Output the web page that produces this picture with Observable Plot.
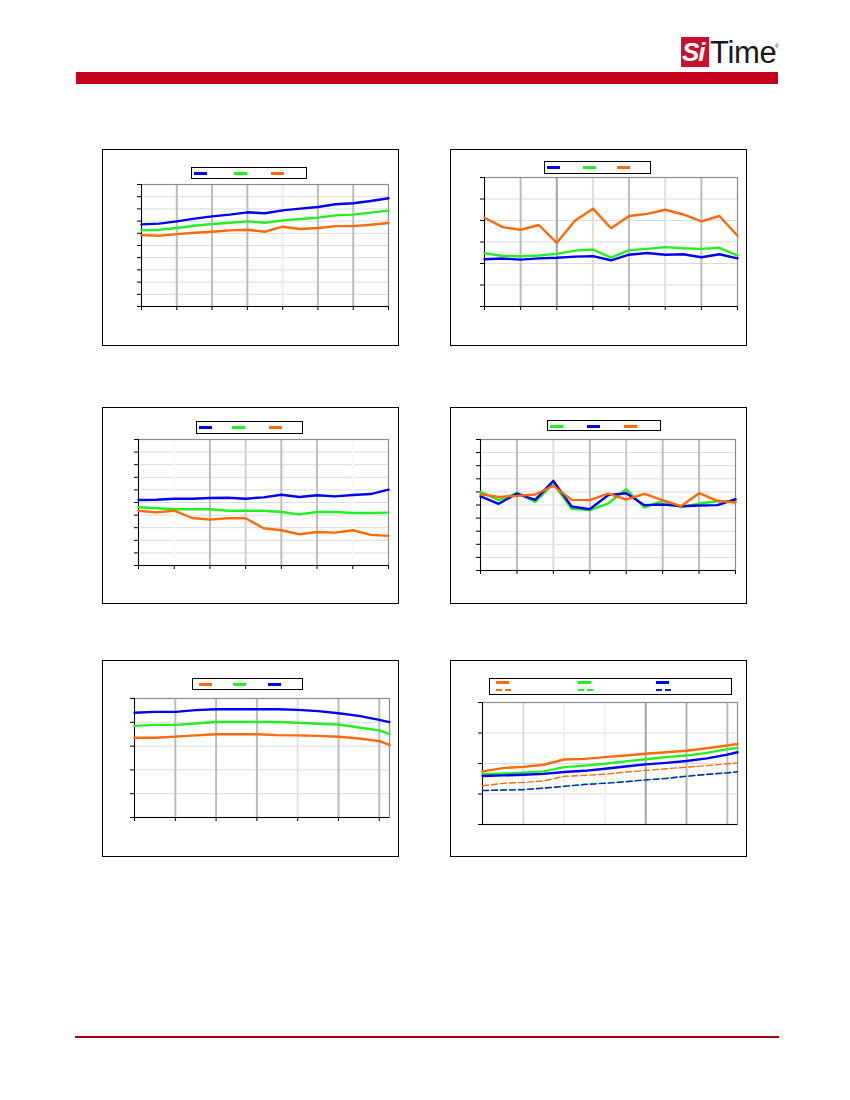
<!DOCTYPE html>
<html><head><meta charset="utf-8">
<script src="https://cdn.jsdelivr.net/npm/d3@7"></script>
<script src="https://cdn.jsdelivr.net/npm/@observablehq/plot@0.6"></script>
<style>
body{margin:0;background:#fff;font-family:"Liberation Sans",Arial,sans-serif}
#page{position:relative;width:850px;height:1100px;overflow:hidden;background:#fff}
.abs{position:absolute}
.box{position:absolute;border:1px solid #000;box-sizing:border-box;background:#fff}
svg{overflow:visible}
</style></head><body><div id="page"></div>
<script>
// ---------- data ----------
const xHalfSteps = [0,1,2,3,4,5,6,7,8,9,10,11,12,13,14];
const xTicks7 = [0,2,4,6,8,10,12,14];
const xVolt = [0,0.5,1,1.5,2,2.5,3,3.5,4,4.5,5,5.5,6,6.25];
const xTicksVolt = [0,1,2,3,4,5,6];

const c1Blue   = [6.73,6.79,6.98,7.20,7.39,7.53,7.72,7.64,7.88,8.02,8.16,8.38,8.46,8.65,8.87];
const c1Green  = [6.24,6.29,6.43,6.62,6.76,6.87,6.98,6.87,7.06,7.17,7.28,7.47,7.53,7.69,7.86];
const c1Orange = [5.85,5.80,5.93,6.04,6.13,6.24,6.29,6.13,6.54,6.35,6.43,6.59,6.59,6.70,6.84];
const c1YTicks = [0,1,2,3,4,5,6,7,8,9,10];

const c2Blue   = [2.20,2.23,2.18,2.24,2.27,2.32,2.34,2.15,2.41,2.49,2.41,2.43,2.29,2.43,2.24];
const c2Green  = [2.48,2.35,2.34,2.37,2.45,2.60,2.65,2.27,2.62,2.68,2.76,2.71,2.68,2.73,2.37];
const c2Orange = [4.13,3.69,3.57,3.79,2.96,3.99,4.55,3.64,4.21,4.31,4.50,4.28,3.96,4.21,3.29];
const c2YTicks = [0,1,2,3,4,5,6];

const c3Blue   = [5.20,5.22,5.30,5.30,5.36,5.38,5.30,5.41,5.62,5.44,5.57,5.49,5.59,5.67,6.02];
const c3Green  = [4.62,4.54,4.46,4.46,4.46,4.35,4.35,4.35,4.25,4.06,4.25,4.25,4.17,4.17,4.20];
const c3Orange = [4.35,4.22,4.35,3.77,3.64,3.75,3.75,2.96,2.80,2.48,2.66,2.61,2.80,2.43,2.35];
const c3YTicks = [0,1,2,3,4,5,6,7,8,9,10];

const c4Green  = [6.00,5.37,5.92,5.24,6.63,4.71,4.61,5.11,6.20,4.81,5.32,4.84,5.11,5.29,5.29];
const c4Blue   = [5.65,5.09,5.87,5.39,6.84,4.89,4.68,5.75,5.90,4.99,5.04,4.91,4.96,4.99,5.44];
const c4Orange = [5.82,5.62,5.70,5.80,6.46,5.39,5.37,5.87,5.42,5.85,5.37,4.91,5.90,5.32,5.19];
const c4YTicks = [0,1,2,3,4,5,6,7,8,9,10];

const c5Orange = [3.35,3.35,3.40,3.45,3.50,3.50,3.50,3.46,3.45,3.43,3.39,3.32,3.21,3.05];
const c5Green  = [3.85,3.89,3.89,3.95,4.01,4.01,4.01,4.01,3.98,3.94,3.91,3.78,3.66,3.50];
const c5Blue   = [4.40,4.44,4.44,4.51,4.55,4.55,4.55,4.55,4.52,4.47,4.38,4.27,4.10,4.01];
const c5YTicks = [0,1,2,3,4,5];

const c6OrangeSolid  = [1.74,1.85,1.89,1.96,2.13,2.15,2.21,2.26,2.32,2.37,2.42,2.50,2.59,2.64];
const c6GreenSolid   = [1.65,1.67,1.70,1.74,1.88,1.93,1.99,2.07,2.14,2.21,2.26,2.35,2.47,2.51];
const c6BlueSolid    = [1.59,1.61,1.63,1.66,1.72,1.76,1.83,1.90,1.97,2.02,2.08,2.17,2.29,2.37];
const c6OrangeDashed = [1.27,1.35,1.38,1.43,1.58,1.61,1.65,1.72,1.77,1.83,1.88,1.93,1.99,2.02];
const c6GreenDashed  = [1.12,1.14,1.15,1.20,1.26,1.32,1.36,1.41,1.47,1.52,1.59,1.65,1.70,1.74];
const c6BlueDashed   = [1.11,1.13,1.14,1.19,1.25,1.31,1.35,1.40,1.46,1.51,1.58,1.64,1.69,1.73];
const c6YTicks = [0,1,2,3,4];

// ---------- styles ----------
const BLUE = "#0000f5", GREEN = "#22f022", ORANGE = "#ff6a0a";
const G = "#bdbdbd", GD = "#a3a3a3", GL = "#dedede", GF = "#f1f1f1";

const panels = [
  { box:[102,149,297,197], plot:[141,184,388,306], legend:[191,167,116,12],
    x:xHalfSteps, xdomain:[0,14], xticks:xTicks7, ydomain:[0,10], yticks:c1YTicks, xTickMarks:true,
    vgrid:[2,4,6,8,10,12], vgridColor:[G,G,G,"#ececec",G,G],
    series:[{v:c1Blue,c:BLUE,lx:2,ly:4},{v:c1Green,c:GREEN,lx:42,ly:4},{v:c1Orange,c:ORANGE,lx:79,ly:4}] },
  { box:[450,149,297,197], plot:[484,177,737,306], legend:[544,161,107,13],
    x:xHalfSteps, xdomain:[0,14], xticks:xTicks7, ydomain:[0,6], yticks:c2YTicks, xTickMarks:true,
    vgrid:[2,4,6,8,10,12], vgridColor:[G,GD,GL,G,GL,G],
    series:[{v:c2Blue,c:BLUE,lx:2,ly:4},{v:c2Green,c:GREEN,lx:38,ly:4},{v:c2Orange,c:ORANGE,lx:72,ly:4}] },
  { box:[102,407,297,197], plot:[138,439,388,565], legend:[196,421,107,13],
    x:xHalfSteps, xdomain:[0,14], xticks:xTicks7, ydomain:[0,10], yticks:c3YTicks, xTickMarks:true,
    vgrid:[2,4,6,8,10,12], vgridColor:["#fafafa",G,"#d0d0d0",G,G,"#fafafa"],
    series:[{v:c3Blue,c:BLUE,lx:2,ly:4},{v:c3Green,c:GREEN,lx:35,ly:4},{v:c3Orange,c:ORANGE,lx:72,ly:4}] },
  { box:[450,407,297,197], plot:[480,439,735,570], legend:[547,420,114,11],
    x:xHalfSteps, xdomain:[0,14], xticks:xTicks7, ydomain:[0,10], yticks:c4YTicks, xTickMarks:true,
    vgrid:[2,4,6,8,10,12], vgridColor:[G,GL,G,"#cccccc",G,G],
    series:[{v:c4Green,c:GREEN,lx:2,ly:3.5},{v:c4Blue,c:BLUE,lx:39,ly:3.5},{v:c4Orange,c:ORANGE,lx:76,ly:3.5}] },
  { box:[102,660,297,197], plot:[134,698,389,817], legend:[192,678,111,12],
    x:xVolt, xdomain:[0,6.25], xticks:xTicksVolt, ydomain:[0,5], yticks:c5YTicks, xTickMarks:true,
    vgrid:[1,2,3,4,5,6], vgridColor:[G,G,G,"#e2e2e2",G,G],
    series:[{v:c5Orange,c:ORANGE,lx:6,ly:4},{v:c5Green,c:GREEN,lx:40,ly:4},{v:c5Blue,c:BLUE,lx:75,ly:4}] },
  { box:[450,660,297,197], plot:[482,702,737,824], legend:[489,678,243,17],
    x:xVolt, xdomain:[0,6.25], xticks:xTicksVolt, ydomain:[0,4], yticks:c6YTicks, xTickMarks:false,
    vgrid:[1,2,3,4,5,6], vgridColor:["#dcdcdc",GF,GF,GD,"#b5b5b5",G],
    series:[{v:c6OrangeSolid,c:ORANGE,lx:6,ly:2},{v:c6GreenSolid,c:GREEN,lx:88,ly:2},{v:c6BlueSolid,c:BLUE,lx:166,ly:2},
            {v:c6OrangeDashed,c:ORANGE,lx:6,ly:10,dash:true},{v:c6GreenDashed,c:GREEN,lx:88,ly:10,dash:true},{v:c6BlueDashed,c:"#1020d0",lx:166,ly:10,dash:true}] }
];

// ---------- page chrome ----------
const page = document.getElementById("page");
function el(cls, style, parent=page){ const d=document.createElement("div"); if(cls) d.className=cls; Object.assign(d.style, style); parent.appendChild(d); return d; }
el("abs",{left:"76px",top:"72px",width:"702px",height:"12px",background:"#c4001a"});
el("abs",{left:"75px",top:"1036px",width:"704px",height:"1.5px",background:"#a8001c"});
const logoBox = el("abs",{left:"681px",top:"37px",width:"28px",height:"30px",background:"#c8102e"});
const si = el("abs",{left:"1px",top:"1px",width:"27px",height:"29px",color:"#fff",fontStyle:"italic",fontWeight:"bold",fontSize:"26px",lineHeight:"29px",fontFamily:"'Liberation Sans Narrow','Liberation Sans',Arial,sans-serif",letterSpacing:"-1px"}, logoBox);
si.textContent = "Si";
const tm = el("abs",{left:"710px",top:"39px",color:"#1a1718",fontSize:"31px",lineHeight:"28px",fontFamily:"'Liberation Sans Narrow','Liberation Sans',Arial,sans-serif",letterSpacing:"-0.3px"});
tm.textContent = "Time";
const reg = el("abs",{left:"775px",top:"44px",color:"#231f20",fontSize:"5px",lineHeight:"5px"});
reg.textContent = "®";

// ---------- panels ----------
const mL = 8, mR = 2, mT = 2, mB = 8;
for (const p of panels) {
  el("box",{left:p.box[0]+"px",top:p.box[1]+"px",width:p.box[2]+"px",height:p.box[3]+"px"});
  const lg = el("box",{left:p.legend[0]+"px",top:p.legend[1]+"px",width:p.legend[2]+"px",height:p.legend[3]+"px"});
  for (const s of p.series) {
    if (s.dash) {
      el("abs",{left:s.lx+"px",top:s.ly+"px",width:"15px",height:"1.5px",
        background:`repeating-linear-gradient(90deg, ${s.c} 0 6px, transparent 6px 9px)`}, lg);
    } else {
      el("abs",{left:s.lx+"px",top:s.ly+"px",width:"13px",height:"3px",background:s.c}, lg);
    }
  }
  const [x0,y0,x1,y1] = p.plot;
  const marks = [
    Plot.gridY(p.yticks, {stroke:"#dcdcdc", strokeOpacity:1, strokeWidth:1}),
    ...p.vgrid.map((v,i) => Plot.ruleX([v], {stroke:p.vgridColor[i], strokeWidth:2})),
    Plot.frame({stroke:"#8c8c8c", strokeWidth:1.2}),
    Plot.ruleX([p.xdomain[0]], {stroke:"#000", strokeWidth:1}),
    Plot.ruleY([p.ydomain[0]], {stroke:"#000", strokeWidth:1}),
    Plot.axisY(p.yticks, {tickSize:4, tickFormat:()=>"", label:null, stroke:"#000"}),
    Plot.axisX(p.xticks, {tickSize:p.xTickMarks ? 4 : 0, tickFormat:()=>"", label:null, stroke:"#000"}),
    ...p.series.map(s => Plot.line(s.v.map((v,i)=>({x:p.x[i], y:v})), {
      x:"x", y:"y", stroke:s.c, strokeWidth: s.dash ? 1.4 : 2.4,
      strokeDasharray: s.dash ? "6,3" : null, strokeLinejoin:"round"
    }))
  ];
  const svg = Plot.plot({
    width: (x1-x0)+mL+mR, height: (y1-y0)+mT+mB,
    marginLeft:mL, marginRight:mR, marginTop:mT, marginBottom:mB,
    x:{domain:p.xdomain}, y:{domain:p.ydomain},
    style:{background:"transparent", overflow:"visible"},
    marks
  });
  const holder = el("abs",{left:(x0-mL)+"px",top:(y0-mT)+"px"});
  holder.appendChild(svg);
}
</script>
</body></html>
